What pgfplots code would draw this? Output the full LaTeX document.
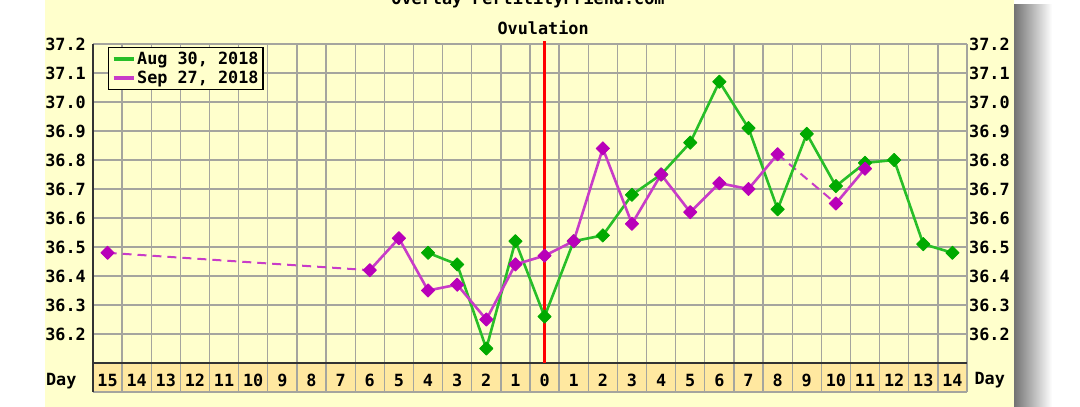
\documentclass[border=0pt]{standalone}
\usepackage{pgfplots}
\pgfplotsset{compat=1.18}
\usepackage{fontspec}
\newfontfamily\chartfont{DejaVu Sans Mono}
\newcommand{\cf}{\chartfont\bfseries\fontsize{16.8}{19}\selectfont}
\definecolor{bgyellow}{RGB}{255,255,204}
\definecolor{band}{RGB}{255,232,160}
\definecolor{gridgray}{RGB}{165,165,158}
\definecolor{aug}{RGB}{40,190,40}
\definecolor{augmark}{RGB}{0,170,0}
\definecolor{sep}{RGB}{200,60,200}
\definecolor{sepmark}{RGB}{185,0,185}
\begin{document}
\begin{tikzpicture}
\useasboundingbox (0pt,0pt) rectangle (1080pt,407pt);
\clip (0pt,0pt) rectangle (1080pt,407pt);
\fill[white] (0pt,0pt) rectangle (1080pt,407pt);
\fill[bgyellow] (45pt,0pt) rectangle (1014pt,407pt);
\shade[left color=black!55, right color=white] (1014pt,0pt) rectangle (1052pt,402pt);
\fill[band] (93pt,15pt) rectangle (967pt,44pt);
\node[font=\cf, anchor=base] at (528pt,402pt) {Overlay FertilityFriend.com};
\begin{axis}[
  at={(93pt,15pt)}, anchor=south west,
  scale only axis, width=874pt, height=348pt,
  xmin=-0.5, xmax=29.5, ymin=36.0, ymax=37.2,
  xtick={0,...,29},
  xticklabels={15,14,13,12,11,10,9,8,7,6,5,4,3,2,1,0,1,2,3,4,5,6,7,8,9,10,11,12,13,14},
  xticklabel style={font=\cf, anchor=base, yshift=5pt},
  minor xtick={0.5,1.5,...,28.5},
  xminorgrids=true,
  ytick={36.2,36.3,36.4,36.5,36.6,36.7,36.8,36.9,37.0,37.1,37.2},
  ymajorgrids=true,
  grid style={gridgray, line width=1.3pt},
  minor grid style={gridgray, line width=1.3pt},
  yticklabel style={font=\cf, inner sep=0pt, xshift=-7pt},
  /pgf/number format/.cd, fixed, fixed zerofill, precision=1, assume math mode=true,
  /pgfplots/.cd,
  tick style={draw=none},
  axis line style={draw=none},
  clip=false,
  legend style={at={(0.0172,0.991)}, anchor=north west, draw=black, line width=1.3pt,
    fill=bgyellow, inner xsep=3pt, inner ysep=3pt, row sep=1.5pt,
    font=\cf, nodes={inner sep=1.5pt}},
  legend cell align=left,
  legend image code/.code={\draw[#1, solid, line width=4pt] (0pt,0pt) -- (20pt,0pt);},
]
% borders
\draw[gridgray, line width=1.3pt] (axis cs:29.5,36.0) -- (axis cs:29.5,37.2);
\draw[gridgray, line width=1.3pt] (axis cs:-0.5,36.0) -- (axis cs:29.5,36.0);
\draw[black!80, line width=1.6pt] (axis cs:-0.5,36.1) -- (axis cs:29.5,36.1);
\draw[black!80, line width=1.6pt] (axis cs:-0.5,36.0) -- (axis cs:-0.5,37.2);
% ovulation line
\draw[red, line width=3.5pt] (axis cs:15,36.1) -- (axis cs:15,37.21);
\node[font=\cf, anchor=base] at (axis cs:14.95,37.2) [yshift=9pt] {Ovulation};
% Day labels
\node[font=\cf, anchor=base east] at (axis cs:-0.5,36.0) [xshift=-13pt, yshift=6pt] {Day};
\node[font=\cf, anchor=base west] at (axis cs:29.5,36.0) [xshift=4pt, yshift=7pt] {Day};
% dashed gaps (Sep 27)
\addplot[sep, line width=2pt, dash pattern=on 9pt off 6pt, forget plot] coordinates {(0,36.48) (9,36.42)};
\addplot[sep, line width=2pt, dash pattern=on 9pt off 6pt, forget plot] coordinates {(23,36.82) (25,36.65)};
% Aug 30, 2018
\addplot[aug, line width=2.6pt, mark=square*, mark size=4.7pt,
  mark options={rotate=45, fill=augmark, draw=augmark, line width=0.8pt, line join=round}]
  coordinates {(11,36.48)(12,36.44)(13,36.15)(14,36.52)(15,36.26)(16,36.52)(17,36.54)(18,36.68)(19,36.75)(20,36.86)(21,37.07)(22,36.91)(23,36.63)(24,36.89)(25,36.71)(26,36.79)(27,36.80)(28,36.51)(29,36.48)};
\addlegendentry{Aug 30, 2018\hspace{7pt}}
% Sep 27, 2018
\addplot[sep, line width=2.6pt, mark=square*, mark size=4.7pt, unbounded coords=jump,
  mark options={rotate=45, fill=sepmark, draw=sepmark, line width=0.8pt, line join=round}]
  coordinates {(0,36.48)(1,nan)(9,36.42)(10,36.53)(11,36.35)(12,36.37)(13,36.25)(14,36.44)(15,36.47)(16,36.52)(17,36.84)(18,36.58)(19,36.75)(20,36.62)(21,36.72)(22,36.70)(23,36.82)(24,nan)(25,36.65)(26,36.77)};
\addlegendentry{Sep 27, 2018\hspace{7pt}}
\end{axis}
\begin{axis}[
  at={(93pt,15pt)}, anchor=south west,
  scale only axis, width=874pt, height=348pt,
  xmin=-0.5, xmax=29.5, ymin=36.0, ymax=37.2,
  xtick=\empty,
  ytick={36.2,36.3,36.4,36.5,36.6,36.7,36.8,36.9,37.0,37.1,37.2},
  yticklabel pos=right,
  yticklabel style={font=\cf, anchor=west, inner sep=0pt, xshift=2pt},
  /pgf/number format/.cd, fixed, fixed zerofill, precision=1, assume math mode=true,
  /pgfplots/.cd,
  tick style={draw=none},
  axis line style={draw=none},
]
\end{axis}
\end{tikzpicture}
\end{document}
